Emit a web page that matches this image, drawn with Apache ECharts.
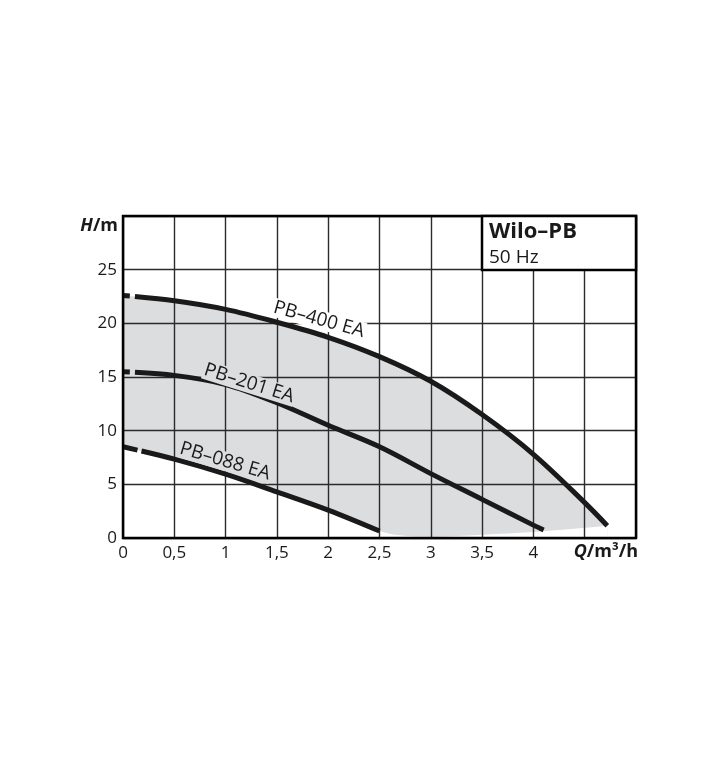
<!DOCTYPE html>
<html>
<head>
<meta charset="utf-8">
<script src="https://cdn.jsdelivr.net/npm/echarts@6/dist/echarts.min.js"></script>
<style>html,body{margin:0;padding:0;background:#fff;}#c{width:720px;height:780px;}</style>
</head>
<body>
<div id="c"></div>
<script>
// ---- data ----
const title = 'Wilo–PB';
const subtitle = '50 Hz';
const xTickLabels = ['0','0,5','1','1,5','2','2,5','3','3,5','4'];
const yTickLabels = ['0','5','10','15','20','25'];
const pb400 = [[0,22.6],[0.5,22.1],[1,21.3],[1.5,20.1],[2,18.7],[2.5,16.9],[3,14.6],[3.5,11.5],[4,7.8],[4.5,3.3],[4.72,1.15]];
const pb201 = [[0,15.5],[0.5,15.15],[1,14.3],[1.5,12.6],[2,10.5],[2.5,8.5],[3,6.0],[3.5,3.6],[4,1.2],[4.1,0.75]];
const pb088 = [[0,8.5],[0.5,7.35],[1,5.95],[1.5,4.3],[2,2.6],[2.5,0.65]];
const bottomEdge = [[2.7,0.25],[3,0.12],[3.5,0.3],[4,0.55],[4.5,0.95],[4.72,1.15]];
const labelNames = ['PB–400 EA','PB–201 EA','PB–088 EA'];
const labelPos = [[1.91,20.35],[1.23,14.4],[0.995,7.15]];
const labelAngle = [15.5,17.5,16.5];

const FONT = 'Open Sans';
const GRAY = '#dcdddf';
const INK = '#1a1a1a';
const labelBg = ['#ffffff', GRAY, GRAY];

const chart = echarts.init(document.getElementById('c'), null, {renderer:'canvas'});

const curveStyle = (dash) => ({color: INK, width: 5, type: dash, cap: 'butt'});

const series = [
  {type:'line', data: pb400, smooth: 0.35, showSymbol:false, z:1, silent:true,
   lineStyle:{width:0}, areaStyle:{color: GRAY, opacity:1}},
  {type:'line', data: pb088.concat(bottomEdge), smooth: 0.35, showSymbol:false, z:1, silent:true,
   lineStyle:{width:0}, areaStyle:{color:'#ffffff', opacity:1}},
  {type:'line', data: pb400, smooth: 0.35, showSymbol:false, z:3, silent:true, lineStyle: curveStyle([7,5,3000,1])},
  {type:'line', data: pb201, smooth: 0.35, showSymbol:false, z:3, silent:true, lineStyle: curveStyle([7,5,3000,1])},
  {type:'line', data: pb088, smooth: 0.35, showSymbol:false, z:3, silent:true, lineStyle: curveStyle([15,4,3000,1])},
  {type:'custom', z:4, silent:true, data: labelPos.map((p,i)=>[p[0],p[1],i]),
   renderItem:(params, api)=>{
     const i = api.value(2);
     const pt = api.coord([api.value(0), api.value(1)]);
     return {type:'text', x:pt[0], y:pt[1], rotation: -labelAngle[i]*Math.PI/180,
       style:{text:labelNames[i], fill:INK, font:'19px "'+FONT+'"', align:'center', verticalAlign:'middle',
         backgroundColor:labelBg[i], padding:[0,1,0,1]}};
   }}
];

chart.setOption({
  animation:false,
  grid:{left:123, right:84, top:216, bottom:242, show:true, borderColor:'#000', borderWidth:2.5,
        backgroundColor:'transparent', z:5},
  xAxis:{type:'value', min:0, max:5, interval:0.5, z:2,
    axisLine:{show:false}, axisTick:{show:false},
    splitLine:{show:true, lineStyle:{color:'#2b2b2b', width:1.4}},
    axisLabel:{fontFamily:FONT, fontSize:17, color:INK, margin:7,
      formatter:(v)=>{const i=Math.round(v*2); return i<xTickLabels.length? xTickLabels[i] : '';}}},
  yAxis:{type:'value', min:0, max:30, interval:5, z:2,
    axisLine:{show:false}, axisTick:{show:false},
    splitLine:{show:true, lineStyle:{color:'#2b2b2b', width:1.4}},
    axisLabel:{fontFamily:FONT, fontSize:17, color:INK, margin:6,
      formatter:(v)=>{const i=Math.round(v/5); return i<yTickLabels.length? yTickLabels[i] : '';}}},
  graphic:[
    {type:'rect', z:20, shape:{x:482, y:216, width:154, height:54}, style:{fill:'#fff', stroke:'#000', lineWidth:2.5}},
    {type:'text', z:21, x:489, y:232, style:{text:title, font:'bold 22px "'+FONT+'"', fill:INK, verticalAlign:'middle'}},
    {type:'text', z:21, x:489, y:258, style:{text:subtitle, font:'19px "'+FONT+'"', fill:INK, verticalAlign:'middle'}},
    {type:'text', z:21, x:118, y:226, style:{text:'{i|H}{b|/m}', align:'right', verticalAlign:'middle',
      rich:{i:{font:'italic bold 18px "'+FONT+'"', fill:INK}, b:{font:'bold 18px "'+FONT+'"', fill:INK}}}},
    {type:'text', z:21, x:638, y:552, style:{text:'{i|Q}{b|/m³/h}', align:'right', verticalAlign:'middle',
      rich:{i:{font:'italic bold 18px "'+FONT+'"', fill:INK}, b:{font:'bold 18px "'+FONT+'"', fill:INK}}}}
  ],
  series: series
});
</script>
</body>
</html>
